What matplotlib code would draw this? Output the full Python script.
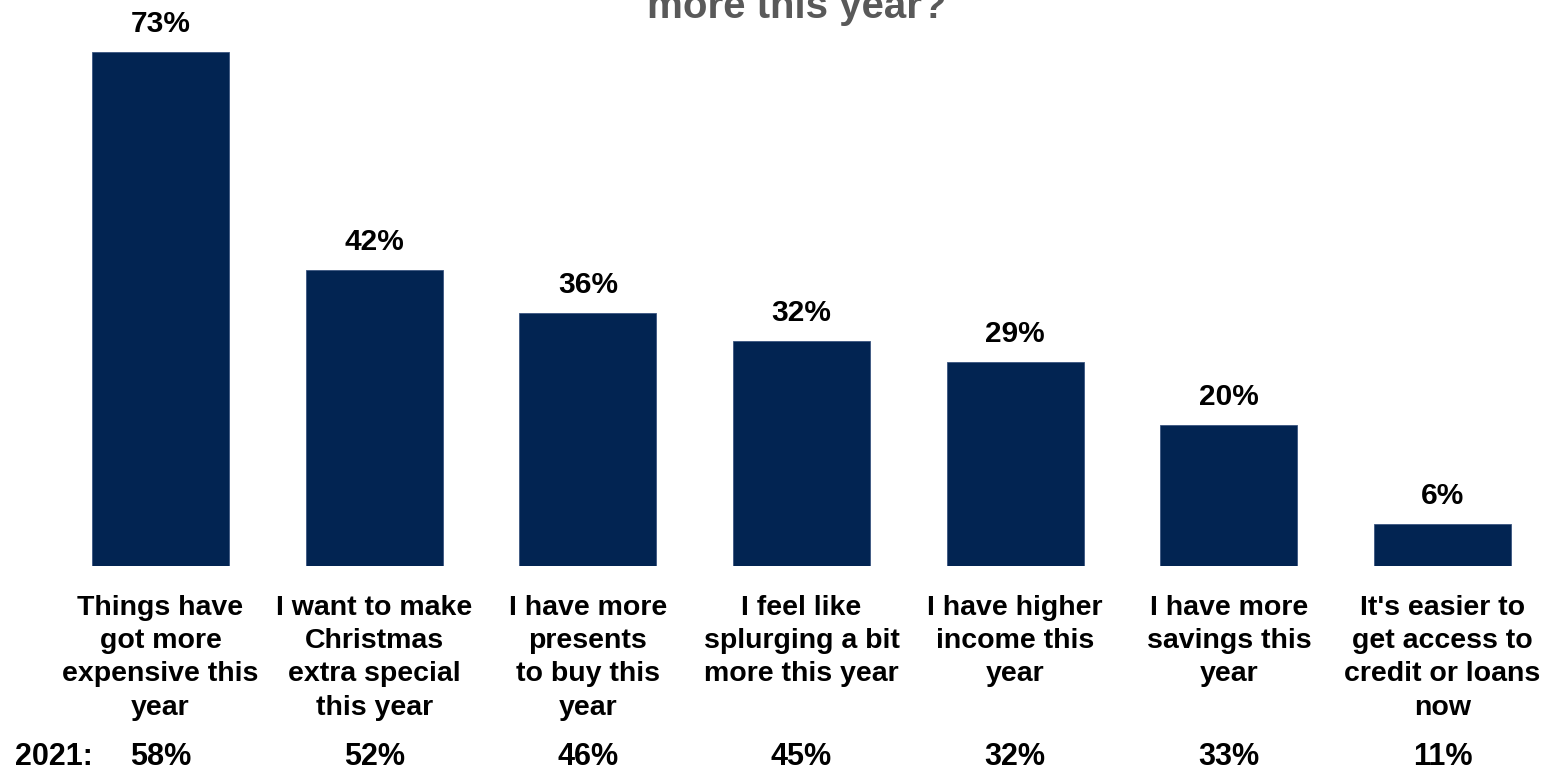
import matplotlib.pyplot as plt
import numpy as np

plt.rcParams['font.family'] = ['Liberation Sans', 'DejaVu Sans']
plt.rcParams['font.weight'] = 'bold'

categories = [
    "Things have\ngot more\nexpensive this\nyear",
    "I want to make\nChristmas\nextra special\nthis year",
    "I have more\npresents\nto buy this\nyear",
    "I feel like\nsplurging a bit\nmore this year",
    "I have higher\nincome this\nyear",
    "I have more\nsavings this\nyear",
    "It's easier to\nget access to\ncredit or loans\nnow",
]
pct_2022 = [73, 42, 36, 32, 29, 20, 6]
pct_2021 = [58, 52, 46, 45, 32, 33, 11]

W, H = 1547, 769
fig = plt.figure(figsize=(W / 100, H / 100), dpi=100)

# axes placed in pixel terms: baseline at y=566 from top
ax_left, ax_right = 40, 1540
ax_bottom, ax_top = H - 566, H
ax = fig.add_axes([ax_left / W, ax_bottom / H, (ax_right - ax_left) / W, (ax_top - ax_bottom) / H])

x = np.arange(len(categories))
bars = ax.bar(x, pct_2022, width=0.64, color='#022452', edgecolor='#3a5580', linewidth=0.6)

step = 213.67
ax.set_xlim((ax_left - 160.5) / step, 6 + (ax_right - 1442.5) / step)
ax.set_ylim(0, 566 / 7.04)
ax.axis('off')

for xi, v in zip(x, pct_2022):
    ax.annotate(f"{v}%", (xi, v), xytext=(0, 14), textcoords='offset pixels',
                ha='center', va='bottom', fontsize=21.5, fontweight='bold', color='black')

for xi, lab in zip(x, categories):
    ax.annotate(lab, (xi, 0), xytext=(0, -29), textcoords='offset pixels',
                ha='center', va='top', fontsize=20.5, fontweight='bold', color='black',
                linespacing=1.36)

for xi, v in zip(x, pct_2021):
    ax.annotate(f"{v}%", (xi, 0), xytext=(0, -191), textcoords='offset pixels',
                ha='center', va='center', fontsize=22, fontweight='bold', color='black')

fig.text(15 / W, 1 - 757 / H, "2021:", ha='left', va='center', fontsize=22,
         fontweight='bold', color='black')

fig.text(797 / W, 1 - 18 / H, "more this year?", ha='center', va='baseline',
         fontsize=29, fontweight='bold', color='#595959')

fig.savefig('out.png', dpi=100)
